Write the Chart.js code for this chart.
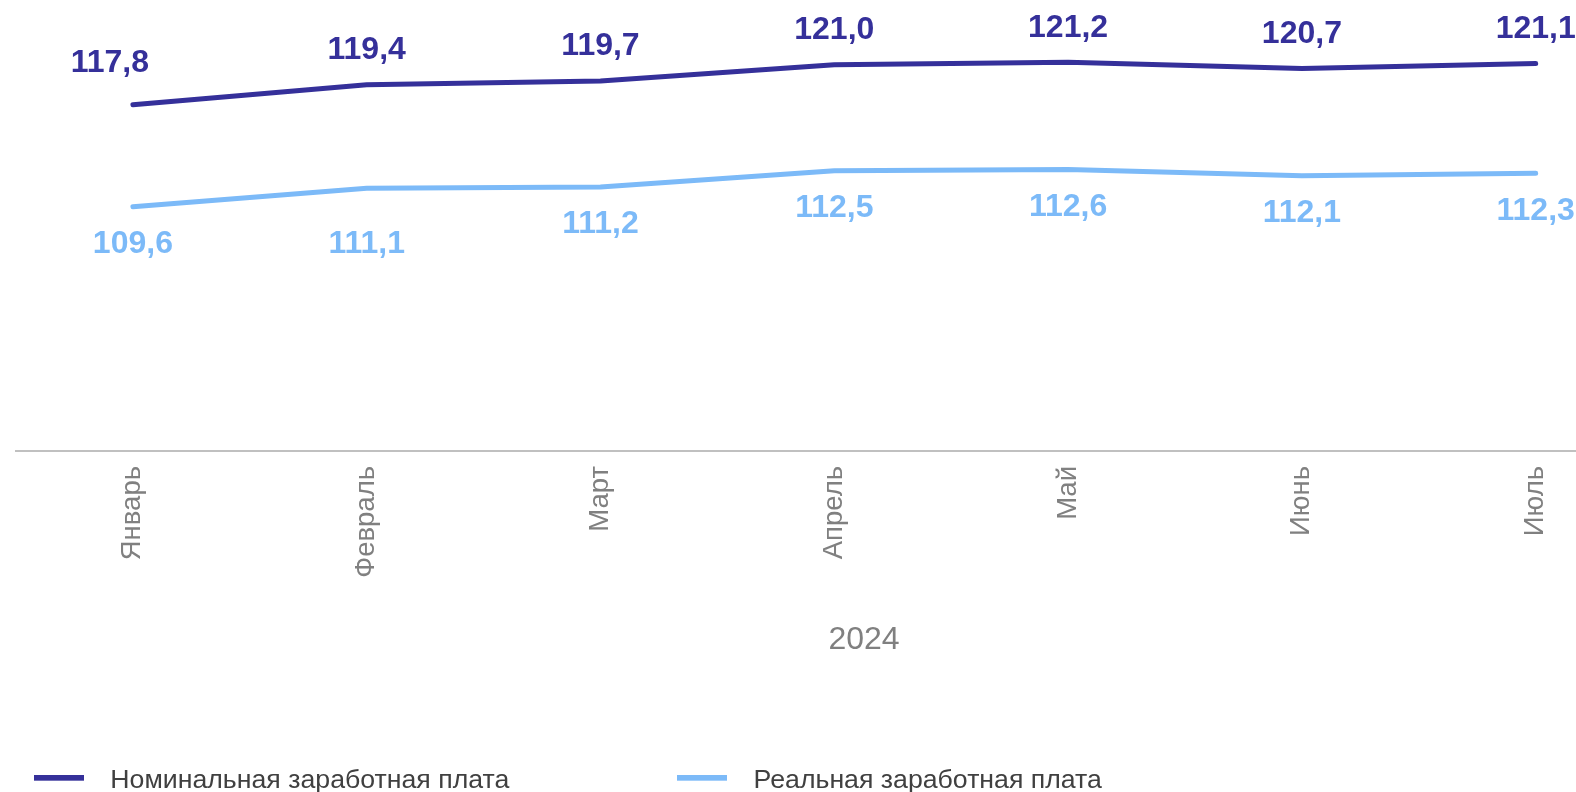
<!DOCTYPE html>
<html lang="ru">
<head>
<meta charset="utf-8">
<title>Заработная плата 2024</title>
<script src="https://cdn.jsdelivr.net/npm/chart.js@4.4.1/dist/chart.umd.min.js"></script>
<style>
  html, body { margin: 0; padding: 0; background: #ffffff; }
  #wrap { position: relative; width: 1576px; height: 792px; overflow: hidden; background: #ffffff; }
  #c { position: absolute; top: 0; }
</style>
</head>
<body>
<div id="wrap"><canvas id="c"></canvas></div>
<script>
// ---- data ----
const months = ['Январь', 'Февраль', 'Март', 'Апрель', 'Май', 'Июнь', 'Июль'];
const axisTitle = '2024';
const nominalLabel = 'Номинальная заработная плата';
const realLabel = 'Реальная заработная плата';
const nominalValues = [117.8, 119.4, 119.7, 121.0, 121.2, 120.7, 121.1];
const realValues = [109.6, 111.1, 111.2, 112.5, 112.6, 112.1, 112.3];

// ---- styles / layout ----
const FONT = '"Liberation Sans", Arial, sans-serif';
const NOMINAL_COLOR = '#35309A';
const REAL_COLOR = '#7CBAF8';
const nominalLabelShift = [[-23, -7], [0, 0], [0, 0], [0, 0], [0, 0], [0, 0], [0, 0]];
const realLabelShift = [[0, 0], [0, 19], [0, 0], [0, 0], [0, 0], [0, 0], [0, 0]];

const H = 804;
const legendFontSize = 26.7;
const markerBox = 76;          // legend slot width for marker
const measure = document.createElement('canvas').getContext('2d');
measure.font = legendFontSize + 'px ' + FONT;
const w1 = markerBox + legendFontSize / 2 + measure.measureText(nominalLabel).width;
const P = Math.round(643 - w1);        // legend spacing
const S = P - 21;                      // canvas left shift
const plotLeft = 16;                   // page x of plot area left edge
const plotRight = 1652.6;              // page x of plot area right edge (clipped off)
const titleCenterX = 864;              // page x of the "2024" caption centre
const W = Math.round(2 * (titleCenterX + S));
const rightGap = W - (S + plotRight);
const plotBottom = 451;
const legendH = legendFontSize + P + 10;
const xScaleH = H - legendH - plotBottom;
const titleFontSize = 32;
const titleLH = titleFontSize * 1.2;
const titleTopPad = 640.5 - (H - legendH) - titleLH / 2;   // drawn relative to its (zero-height) box

function markerImage(color) {
  const c = document.createElement('canvas');
  c.width = 50; c.height = 12;
  const g = c.getContext('2d');
  g.fillStyle = color;
  g.fillRect(0, 0, 50, 6);
  return c;
}

const canvas = document.getElementById('c');
canvas.width = W; canvas.height = H;
canvas.style.left = (-S) + 'px';
canvas.style.width = W + 'px';
canvas.style.height = H + 'px';

const fmt = v => v.toFixed(1).replace('.', ',');

const valueLabels = {
  id: 'valueLabels',
  afterDatasetsDraw(chart) {
    const ctx = chart.ctx;
    chart.data.datasets.forEach((ds, di) => {
      const meta = chart.getDatasetMeta(di);
      const above = di === 0;
      const shifts = above ? nominalLabelShift : realLabelShift;
      ctx.save();
      ctx.font = 'bold 32px ' + FONT;
      ctx.fillStyle = ds.borderColor;
      ctx.textAlign = 'center';
      ctx.textBaseline = 'middle';
      meta.data.forEach((pt, i) => {
        const off = above ? -34.5 : 37.5;
        ctx.fillText(fmt(ds.data[i]), pt.x + shifts[i][0], pt.y + off + shifts[i][1]);
      });
      ctx.restore();
    });
  }
};

new Chart(canvas, {
  type: 'line',
  data: {
    labels: months,
    datasets: [
      {
        label: nominalLabel,
        data: nominalValues,
        borderColor: NOMINAL_COLOR,
        backgroundColor: NOMINAL_COLOR,
        borderWidth: 5,
        borderCapStyle: 'round',
        borderJoinStyle: 'round',
        pointRadius: 0,
        pointHoverRadius: 0,
        tension: 0,
        fill: false
      },
      {
        label: realLabel,
        data: realValues,
        borderColor: REAL_COLOR,
        backgroundColor: REAL_COLOR,
        borderWidth: 5,
        borderCapStyle: 'round',
        borderJoinStyle: 'round',
        pointRadius: 0,
        pointHoverRadius: 0,
        tension: 0,
        fill: false
      }
    ]
  },
  options: {
    responsive: false,
    animation: false,
    devicePixelRatio: 1,
    layout: { padding: { top: 15, left: 0, right: 0, bottom: 0 } },
    scales: {
      x: {
        type: 'category',
        offset: true,
        grid: { display: false, drawTicks: false },
        border: { display: true, color: '#c0c0c0', width: 2 },
        ticks: {
          autoSkip: false,
          minRotation: 90,
          maxRotation: 90,
          padding: 15,
          color: '#808080',
          font: { family: FONT, size: 27.5 }
        },
        afterFit(scale) { scale.height = xScaleH; }
      },
      y: {
        min: 90,
        max: 125,
        grid: { display: false, drawTicks: false },
        border: { display: false },
        ticks: { display: false },
        afterFit(scale) { scale.width = S + plotLeft; }
      },
      yRight: {
        position: 'right',
        display: true,
        grid: { display: false, drawTicks: false },
        border: { display: false },
        ticks: { display: false },
        afterFit(scale) { scale.width = rightGap; }
      }
    },
    plugins: {
      tooltip: { enabled: false },
      title: {
        display: true,
        position: 'bottom',
        weight: 500,
        text: axisTitle,
        color: '#808080',
        font: { family: FONT, size: titleFontSize, weight: 'normal' },
        padding: { top: titleTopPad, bottom: -titleTopPad - titleLH }
      },
      legend: {
        display: true,
        position: 'bottom',
        align: 'start',
        labels: {
          usePointStyle: true,
          pointStyleWidth: markerBox,
          boxHeight: legendFontSize,
          padding: P,
          color: '#404040',
          font: { family: FONT, size: legendFontSize },
          generateLabels(chart) {
            return chart.data.datasets.map((ds, i) => ({
              text: ds.label,
              fillStyle: ds.borderColor,
              strokeStyle: ds.borderColor,
              lineWidth: 0,
              pointStyle: markerImage(ds.borderColor),
              hidden: false,
              datasetIndex: i,
              fontColor: '#404040'
            }));
          }
        }
      }
    }
  },
  plugins: [valueLabels]
});
</script>
</body>
</html>
